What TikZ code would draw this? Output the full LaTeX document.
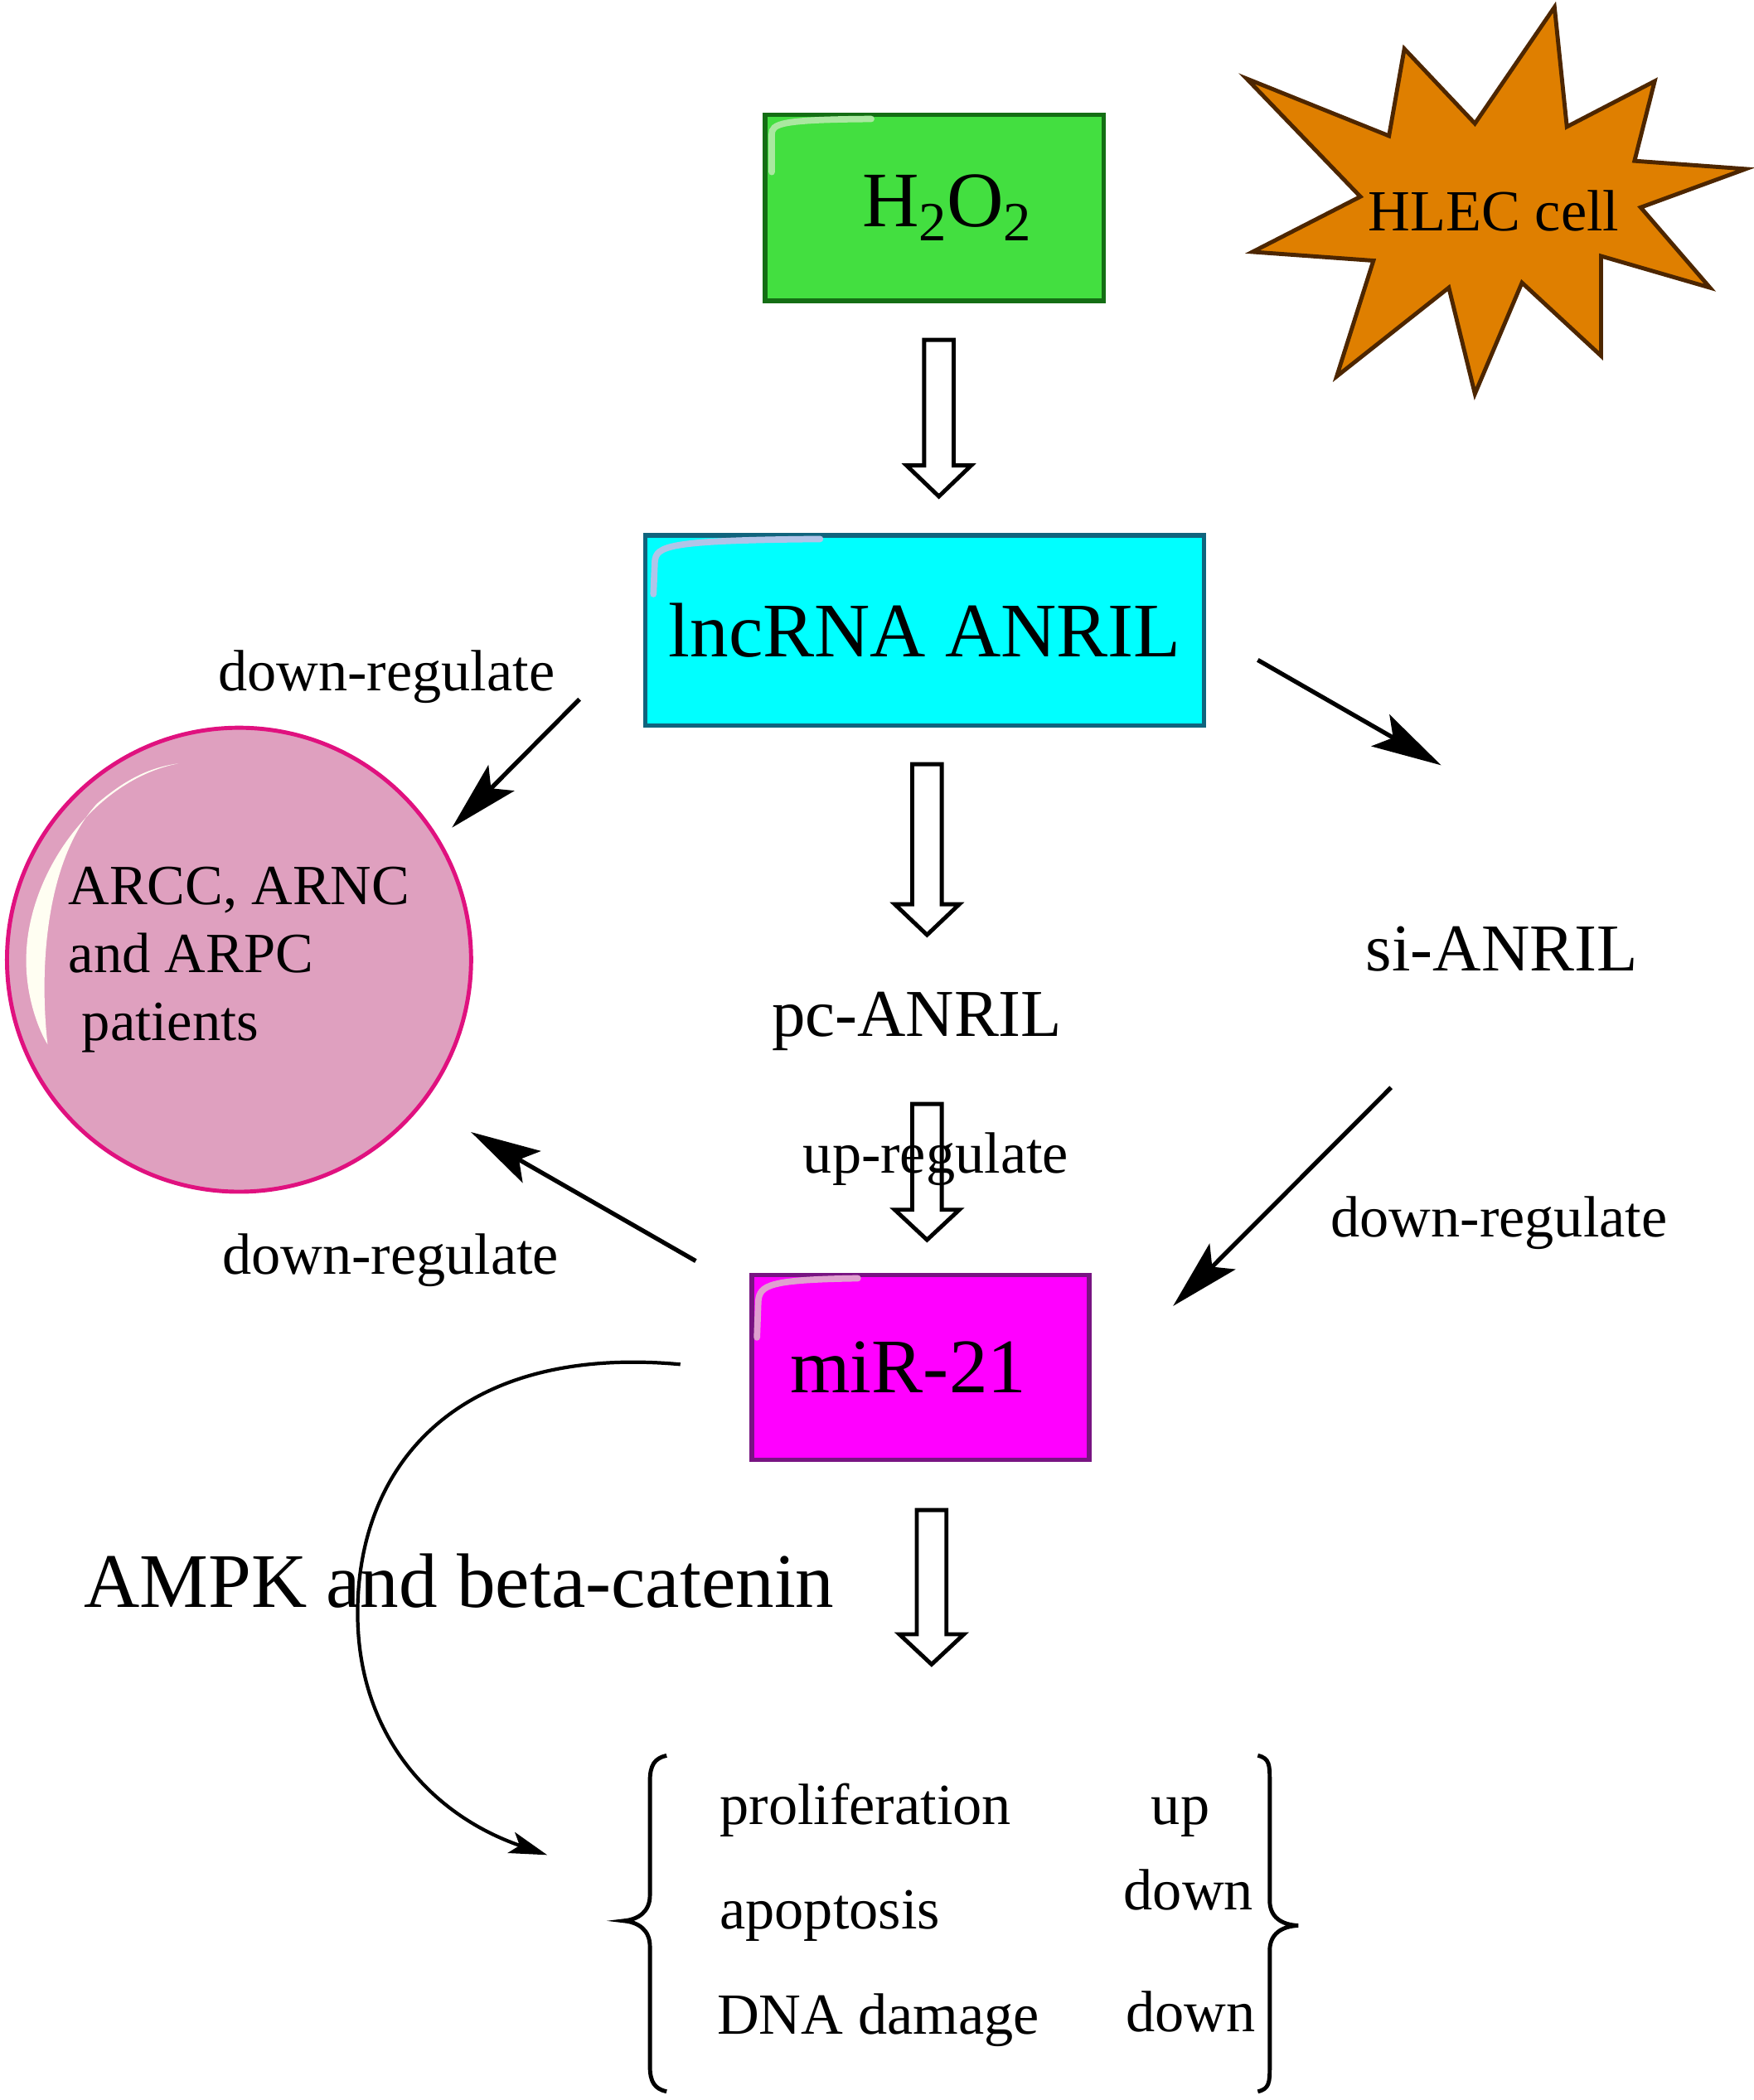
\documentclass[tikz,border=0pt]{standalone}
\usepackage{fontspec}
\setmainfont{Liberation Serif}
\usetikzlibrary{arrows.meta}

\definecolor{hgreen}{RGB}{67,223,64}
\definecolor{hgreenedge}{RGB}{20,110,20}
\definecolor{hgreenlight}{RGB}{170,232,160}
\definecolor{lcyan}{RGB}{0,255,255}
\definecolor{lcyanedge}{RGB}{16,100,125}
\definecolor{lcyanlight}{RGB}{176,196,232}
\definecolor{mmag}{RGB}{255,0,255}
\definecolor{mmagedge}{RGB}{120,20,130}
\definecolor{mmaglight}{RGB}{224,160,208}
\definecolor{cpink}{RGB}{223,160,191}
\definecolor{cpinkedge}{RGB}{224,17,127}
\definecolor{sorange}{RGB}{223,127,0}
\definecolor{sorangeedge}{RGB}{77,38,0}

\newcommand{\blockarr}[4]{\draw[hollow] ({#1-11},#2) -- ({#1+11},#2) -- ({#1+11},#3) -- ({#1+24},#3) -- (#1,#4) -- ({#1-24},#3) -- ({#1-11},#3) -- cycle;}

\begin{document}
\begin{tikzpicture}[x=0.01622cm, y=-0.01622cm,
  big/.style={font=\fontsize{26.5}{30}\selectfont},
  mid/.style={font=\fontsize{23}{27}\selectfont, inner sep=0pt},
  small/.style={font=\fontsize{20}{24}\selectfont, inner sep=0pt},
  block/.style={draw, line width=1.5pt, inner sep=0pt},
  reg/.style={line width=1.5pt, -{Stealth[length=24pt, width=12.5pt, inset=5pt]}},
  hollow/.style={line width=1.4pt, line join=miter},
  gloss/.style={line width=2.2pt, line cap=round}]

    \useasboundingbox (0,0) rectangle (1304,1562.3);

    \node [block, fill=hgreen, draw=hgreenedge, minimum width=116.2pt, minimum height=63.9pt,
      font=\fontsize{27}{30}\selectfont] (h2o2) at (695,154.5)
      {\hspace*{8.4pt}H\raisebox{-5pt}{\fontsize{19}{19}\selectfont 2}O\raisebox{-5pt}{\fontsize{19}{19}\selectfont 2}};
    \draw [gloss, hgreenlight] (574,128) -- (574,100) .. controls (574,92) and (580,89) .. (648,88.5);

    \draw [fill=sorange, draw=sorangeedge, line width=1.4pt, line join=miter]
      (927.2,58.5) -- (1033.1,101.1) -- (1044.5,36.3) -- (1097.0,91.9) -- (1156.2,5.3)
      -- (1165.4,94.3) -- (1230.7,60.4) -- (1215.7,119.7) -- (1298.4,125.7) -- (1220.3,154.3)
      -- (1271.8,214.0) -- (1190.8,190.5) -- (1190.8,264.7) -- (1132.0,210.3) -- (1097.0,293.0)
      -- (1077.6,214.0) -- (994.2,280.0) -- (1021.5,193.9) -- (931.6,187.4) -- (1011.8,146.3) -- cycle;
    \node [small, anchor=base] (hlec) at (1111,172) {HLEC cell};

    \node [block, fill=lcyan, draw=lcyanedge, minimum width=191.8pt, minimum height=65.3pt, big]
      (anril) at (687.9,469) {lncRNA ANRIL};
    \draw [gloss, lcyanlight] (486,442) -- (487,418) .. controls (488,406) and (496,402) .. (610,401);

    \node [block, fill=mmag, draw=mmagedge, minimum width=115.8pt, minimum height=63.5pt, big]
      (mir) at (684.7,1017.2) {miR-21\hspace*{8.4pt}};
    \draw [gloss, mmaglight] (563,995) -- (564,968) .. controls (565,956) and (572,952) .. (638,951);

    \node [circle, fill=cpink, draw=cpinkedge, line width=1.4pt, minimum size=159.3pt, inner sep=0pt,
      align=left, font=\fontsize{19.5}{23.4}\selectfont] (pat) at (177.8,714)
      {ARCC, ARNC\\and ARPC\\\hspace*{4.6pt}patients};
    \fill [white!95!yellow] (132.7,568) .. controls (70,580) and (20,650) .. (19.5,713)
      .. controls (19,740) and (28,765) .. (35.4,777)
      .. controls (29,720) and (34,640) .. (72,598) .. controls (92,581) and (110,571) .. (132.7,568) -- cycle;

    \node [mid, anchor=base] (pc) at (682,771) {pc-ANRIL};
    \node [mid, anchor=base] (si) at (1117,722) {si-ANRIL};

    \blockarr{698.3}{252.9}{346.3}{369.3}
    \blockarr{689.5}{568.5}{672.7}{695.5}
    \blockarr{689.5}{821.3}{900}{922.4}
    \blockarr{692.9}{1123.4}{1215.8}{1238.2}

    \node [small, anchor=base] (upreg) at (696,872.4) {up-regulate};
    \node [small, anchor=base] (downa) at (287.5,513.8) {down-regulate};
    \node [small, anchor=base] (downb) at (290.5,948) {down-regulate};
    \node [small, anchor=base] (downc) at (1115,920.4) {down-regulate};

    \coordinate (a1) at (431,520.2);
    \coordinate (a2) at (336.2,615.7);
    \coordinate (b1) at (517.5,938.1);
    \coordinate (b2) at (350.3,842.2);
    \coordinate (c1) at (935.5,491);
    \coordinate (c2) at (1071.9,569.3);
    \coordinate (d1) at (1034.6,809.1);
    \coordinate (d2) at (872.5,971.6);
    \draw [reg] (a1) -- (a2);
    \draw [reg] (b1) -- (b2);
    \draw [reg] (c1) -- (c2);
    \draw [reg] (d1) -- (d2);

    \node [big, inner sep=0pt, anchor=base west] (ampk) at (62,1196) {AMPK and beta-catenin};
    \coordinate (cs) at (506,1015);
    \coordinate (ce) at (407,1380);
    \draw [line width=1.2pt, -{Stealth[length=13pt, width=7.5pt, inset=3pt]}]
      (cs) .. controls (340,1000) and (266,1090) .. (266,1200)
      .. controls (266,1290) and (320,1350) .. (ce);

    \draw [line width=1.4pt] (495.8,1306) .. controls (487,1308) and (483.4,1313) .. (483.4,1325)
      -- (483.4,1410) .. controls (483.4,1422) and (475,1428) .. (463.9,1429)
      .. controls (475,1430) and (483.4,1436) .. (483.4,1448)
      -- (483.4,1537) .. controls (483.4,1549) and (487,1554) .. (495.8,1556);
    \draw [line width=1.4pt] (935.5,1306) .. controls (944.3,1308) and (944.4,1313) .. (944.4,1325)
      -- (944.4,1414) .. controls (944.4,1426) and (953,1432) .. (965.6,1432.5)
      .. controls (953,1433) and (944.4,1439) .. (944.4,1451)
      -- (944.4,1537) .. controls (944.4,1549) and (944.3,1554) .. (935.5,1556);

    \node [small, anchor=base west] (prolif) at (535,1357.4) {proliferation};
    \node [small, anchor=base west] (apop) at (535,1435.2) {apoptosis};
    \node [small, anchor=base west] (dna) at (533,1513.5) {DNA damage};
    \node [small, anchor=base] (upa) at (878,1357) {up};
    \node [small, anchor=base] (downd) at (884,1421) {down};
    \node [small, anchor=base] (downe) at (885.5,1511.7) {down};

 \end{tikzpicture}
\end{document}
